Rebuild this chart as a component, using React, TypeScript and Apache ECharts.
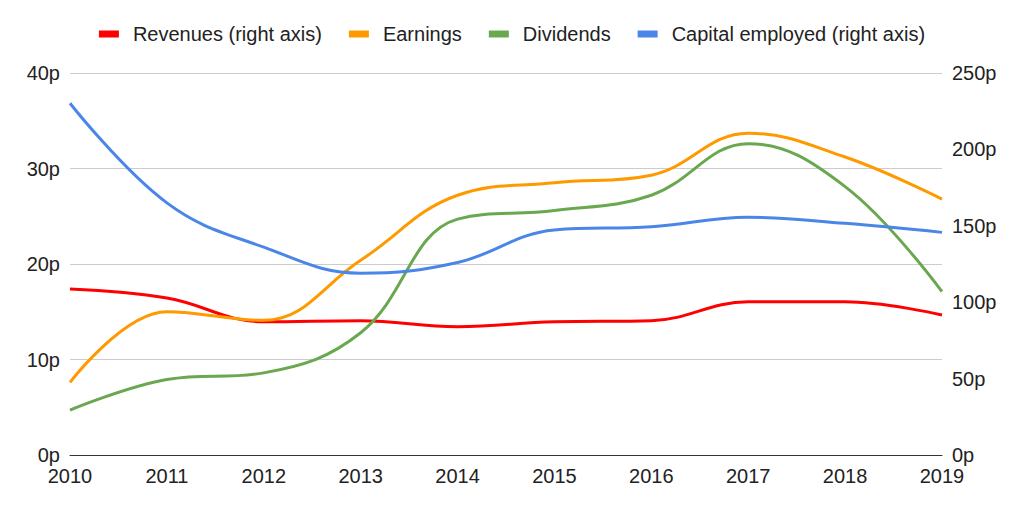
import React, { useEffect, useRef } from "react";
import * as echarts from "echarts";

const years = ["2010", "2011", "2012", "2013", "2014", "2015", "2016", "2017", "2018", "2019"];
const revenues = [108.6, 102.7, 87.2, 87.9, 84, 87.2, 87.9, 100.3, 100.3, 91.6];
const earnings = [7.6, 15.0, 14.1, 20.4, 27.2, 28.5, 29.3, 33.7, 31.2, 26.8];
const dividends = [4.7, 7.9, 8.6, 12.8, 24.7, 25.6, 27.2, 32.6, 28.1, 17.1];
const capitalEmployed = [230.2, 165, 136, 119, 126, 147.3, 149.4, 155.6, 151.6, 145.7];

const FONT = "'Liberation Sans', Arial, sans-serif";

export default function App() {
  const ref = useRef<HTMLDivElement>(null);
  useEffect(() => {
    if (!ref.current) return;
    const chart = echarts.init(ref.current, null, { renderer: "svg" });
    const mk = (name: string, data: number[], color: string, yAxisIndex: number) => ({
      name,
      type: "line",
      data,
      yAxisIndex,
      smooth: 0.4,
      showSymbol: false,
      symbol: "none",
      lineStyle: { width: 3, color },
      itemStyle: { color },
    });
    chart.setOption({
      animation: false,
      backgroundColor: "#ffffff",
      textStyle: { fontFamily: FONT },
      legend: {
        top: 19,
        left: "center",
        itemWidth: 20,
        itemHeight: 7,
        itemGap: 27,
        icon: "rect",
        textStyle: { fontFamily: FONT, fontSize: 20, color: "#222", padding: [0, 0, 0, 9] },
        data: ["Revenues (right axis)", "Earnings", "Dividends", "Capital employed (right axis)"],
      },
      grid: { left: 70, right: 82, top: 73, bottom: 57, containLabel: false },
      xAxis: {
        type: "category",
        data: years,
        boundaryGap: false,
        axisLine: { show: true, lineStyle: { color: "#333", width: 1 } },
        axisTick: { show: false },
        axisLabel: { color: "#222", fontSize: 20, fontFamily: FONT, margin: 11, interval: 0 },
        splitLine: { show: false },
      },
      yAxis: [
        {
          type: "value",
          min: 0,
          max: 40,
          interval: 10,
          axisLine: { show: false },
          axisTick: { show: false },
          axisLabel: { color: "#222", fontSize: 20, fontFamily: FONT, margin: 10, formatter: (v: number) => v + "p" },
          splitLine: { show: true, lineStyle: { color: "#cccccc", width: 1 } },
        },
        {
          type: "value",
          min: 0,
          max: 250,
          interval: 50,
          position: "right",
          axisLine: { show: false },
          axisTick: { show: false },
          axisLabel: { color: "#222", fontSize: 20, fontFamily: FONT, margin: 10, formatter: (v: number) => v + "p" },
          splitLine: { show: false },
        },
      ],
      series: [
        mk("Revenues (right axis)", revenues, "#ff0000", 1),
        mk("Earnings", earnings, "#ff9900", 0),
        mk("Dividends", dividends, "#6aa84f", 0),
        mk("Capital employed (right axis)", capitalEmployed, "#4a86e8", 1),
      ],
    });
    return () => chart.dispose();
  }, []);
  return (
    <div
      ref={ref}
      style={{ position: "absolute", left: 0, top: 0, width: 1024, height: 512, background: "#fff" }}
    />
  );
}
